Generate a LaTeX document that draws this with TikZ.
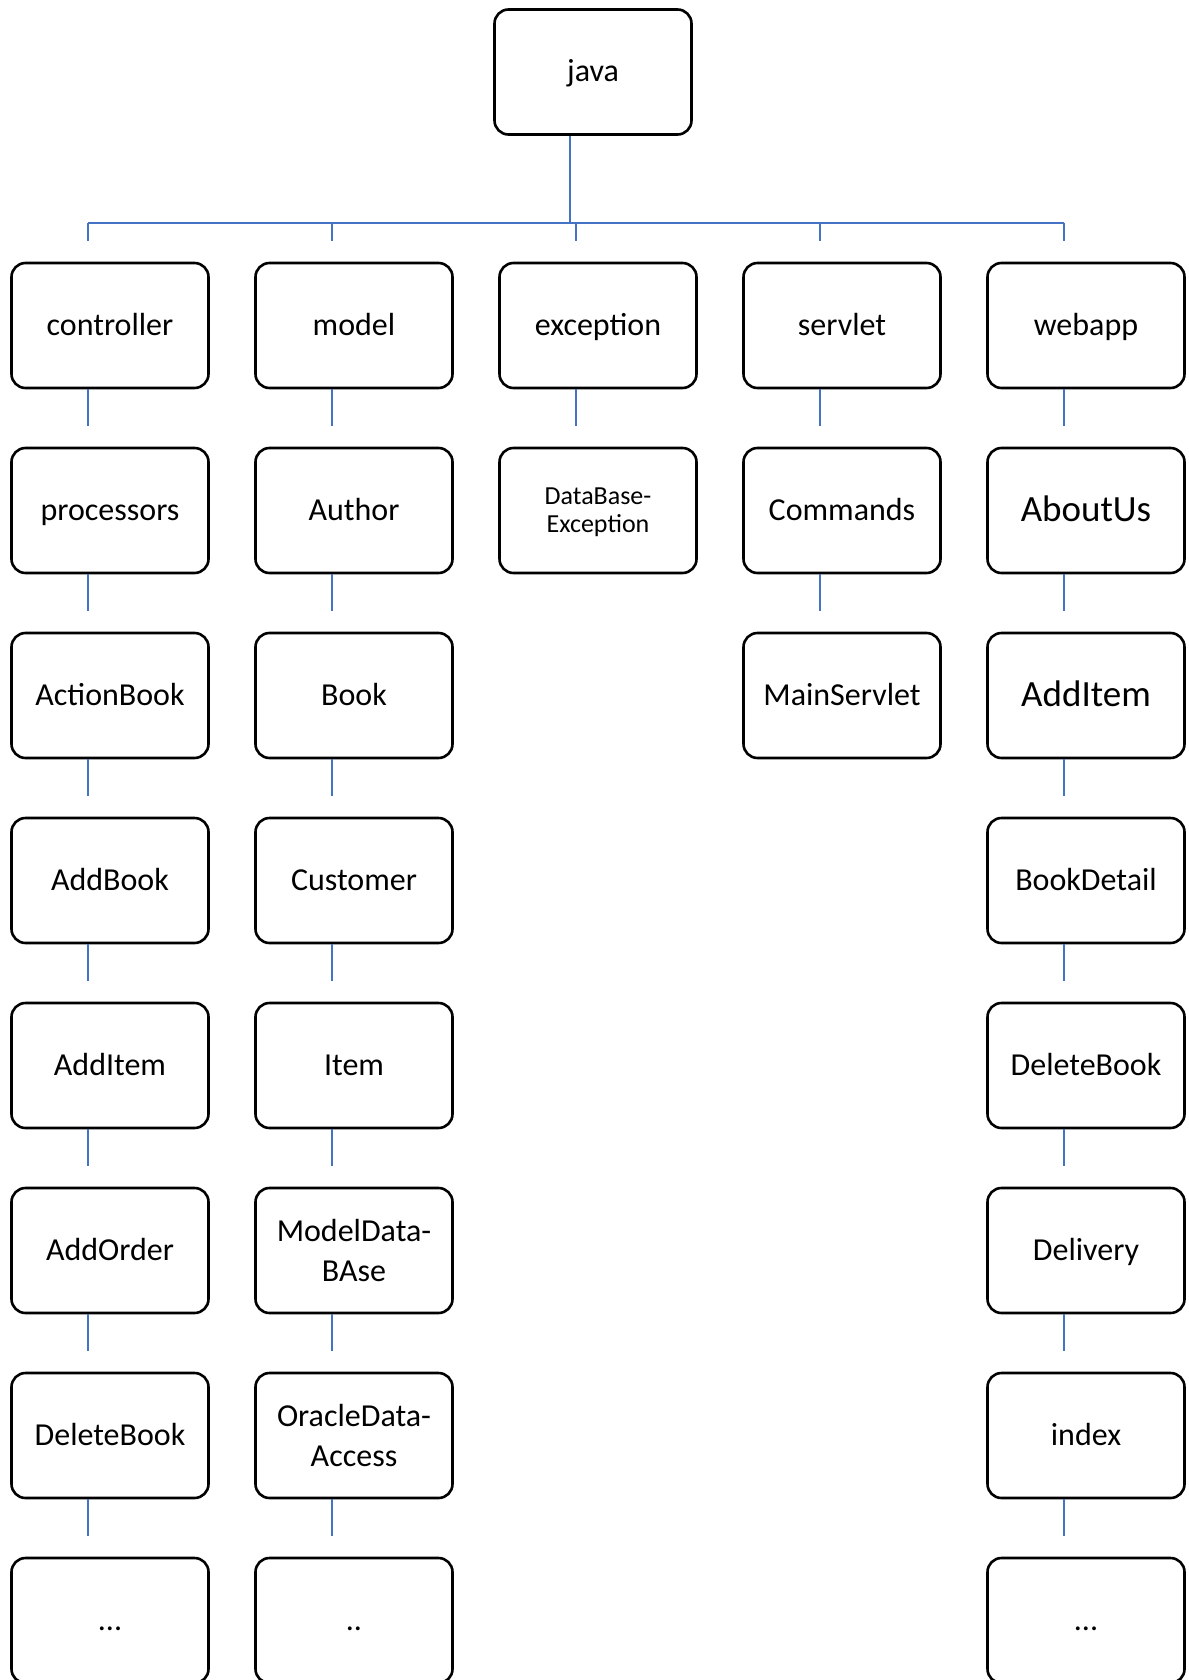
\documentclass[tikz,border=0pt]{standalone}
\usepackage{fontspec}
\setmainfont{Carlito}
\definecolor{linkblue}{RGB}{68,114,196}
\begin{document}
\begin{tikzpicture}[x=1pt,y=-1pt,
  frame/.style={draw=black, line width=2.6pt, rounded corners=14pt,
    minimum width=197pt, minimum height=125pt, inner sep=2pt,
    align=center, font=\fontsize{32}{40}\selectfont},
  box/.style={frame, text height=24pt, text depth=4pt},
  bigtext/.style={font=\fontsize{37}{44}\selectfont, text height=26pt, text depth=4pt},
  twoline/.style={frame},
  smallpair/.style={frame, font=\fontsize{26}{27.7}\selectfont,
    text height=47pt, text depth=4pt},
  link/.style={draw=linkblue, line width=2.2pt}]
\useasboundingbox (0,0) rectangle (1188,1680);

% root
\node[box] (java) at (593,72) {java};

% package level
\node[box] (c0) at (110,325.5) {controller};
\node[box] (m0) at (354,325.5) {model};
\node[box] (e0) at (598,325.5) {exception};
\node[box] (s0) at (842,325.5) {servlet};
\node[box] (w0) at (1086,325.5) {webapp};

% controller column
\node[box] (c1) at (110,510.5) {processors};
\node[box] (c2) at (110,695.5) {ActionBook};
\node[box] (c3) at (110,880.5) {AddBook};
\node[box] (c4) at (110,1065.5) {AddItem};
\node[box] (c5) at (110,1250.5) {AddOrder};
\node[box] (c6) at (110,1435.5) {DeleteBook};
\node[box] (c7) at (110,1620.5) {...};

% model column
\node[box] (m1) at (354,510.5) {Author};
\node[box] (m2) at (354,695.5) {Book};
\node[box] (m3) at (354,880.5) {Customer};
\node[box] (m4) at (354,1065.5) {Item};
\node[twoline] (m5) at (354,1250.5) {ModelData-\\BAse};
\node[twoline] (m6) at (354,1435.5) {OracleData-\\Access};
\node[box] (m7) at (354,1620.5) {..};

% exception column
\node[smallpair] (e1) at (598,510.5) {DataBase-\\Exception};

% servlet column
\node[box] (s1) at (842,510.5) {Commands};
\node[box] (s2) at (842,695.5) {MainServlet};

% webapp column
\node[box,bigtext] (w1) at (1086,510.5) {AboutUs};
\node[box,bigtext] (w2) at (1086,695.5) {AddItem};
\node[box] (w3) at (1086,880.5) {BookDetail};
\node[box] (w4) at (1086,1065.5) {DeleteBook};
\node[box] (w5) at (1086,1250.5) {Delivery};
\node[box] (w6) at (1086,1435.5) {index};
\node[box] (w7) at (1086,1620.5) {...};

% bus from the root to the packages
\coordinate (bus) at (570,223);
\coordinate (busL) at (88,223);
\coordinate (busR) at (1064,223);
\draw[link] (java.south -| bus) -- (bus);
\draw[link] (busL) -- (busR);
\foreach \n in {c0,m0,e0,s0,w0}
  \draw[link] ([xshift=-22pt,yshift=39pt]\n.north) -- ([xshift=-22pt,yshift=21pt]\n.north);

% chains inside each column
\foreach \a/\b in {c0/c1,c1/c2,c2/c3,c3/c4,c4/c5,c5/c6,c6/c7,
                   m0/m1,m1/m2,m2/m3,m3/m4,m4/m5,m5/m6,m6/m7,
                   e0/e1,s0/s1,s1/s2,
                   w0/w1,w1/w2,w2/w3,w3/w4,w4/w5,w5/w6,w6/w7}
  \draw[link] ([xshift=-22pt]\a.south) -- ([xshift=-22pt,yshift=21pt]\b.north);
\end{tikzpicture}
\end{document}
